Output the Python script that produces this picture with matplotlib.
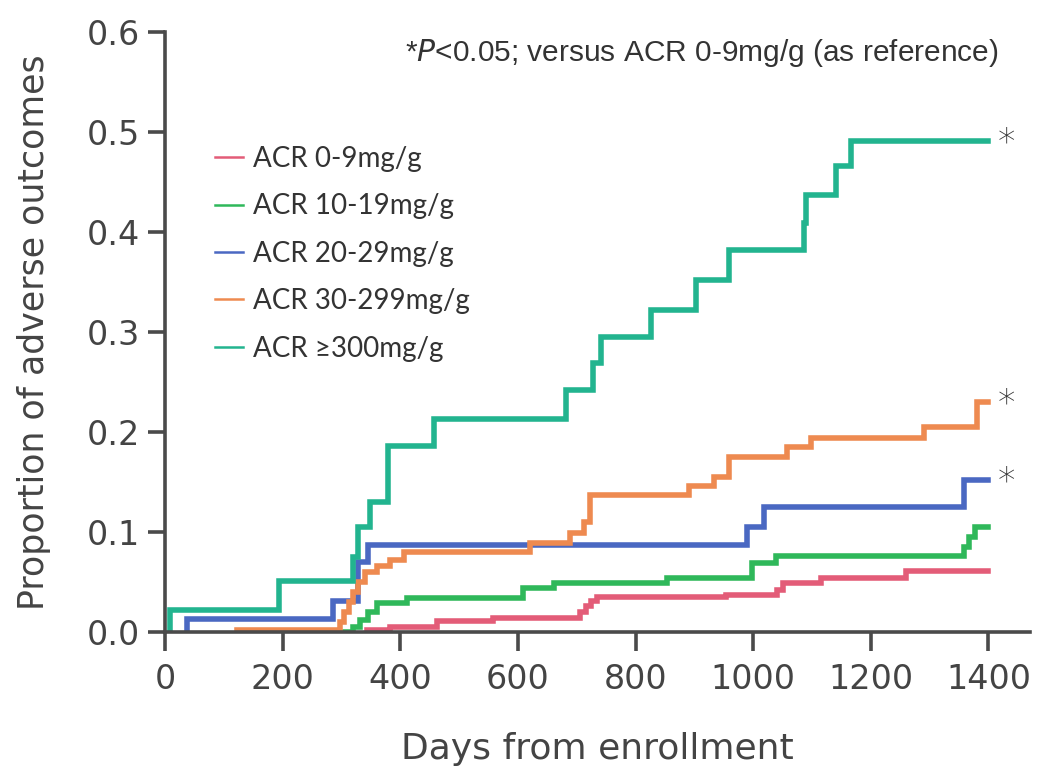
import matplotlib
matplotlib.use("Agg")
import matplotlib.pyplot as plt

# ---- data ----
series_labels = ["ACR 0-9mg/g", "ACR 10-19mg/g", "ACR 20-29mg/g", "ACR 30-299mg/g", "ACR \u2265300mg/g"]
series_colors = ["#e35c78", "#2fb85a", "#4a68c2", "#ee8a50", "#22b48f"]

days_0_9 = [343, 382, 463, 557, 705, 715, 725, 735, 954, 1041, 1050, 1115, 1260, 1400]
vals_0_9 = [0.002, 0.005, 0.011, 0.014, 0.020, 0.026, 0.031, 0.035, 0.037, 0.042, 0.049, 0.054, 0.061, 0.061]

days_10_19 = [306, 320, 331, 345, 360, 411, 608, 662, 854, 998, 1039, 1358, 1367, 1378, 1400]
vals_10_19 = [0.0, 0.005, 0.012, 0.020, 0.029, 0.034, 0.044, 0.049, 0.054, 0.069, 0.076, 0.085, 0.095, 0.105, 0.105]

days_20_29 = [37, 37, 285, 328, 345, 990, 1019, 1358, 1400]
vals_20_29 = [0.0, 0.013, 0.031, 0.070, 0.087, 0.105, 0.125, 0.152, 0.152]

days_30_299 = [122, 297, 305, 312, 320, 328, 340, 360, 382, 407, 620, 688, 712, 722, 891, 934, 959, 1058, 1098, 1290, 1380, 1400]
vals_30_299 = [0.002, 0.010, 0.020, 0.030, 0.040, 0.050, 0.060, 0.066, 0.072, 0.080, 0.089, 0.099, 0.110, 0.137, 0.146, 0.155, 0.175, 0.185, 0.194, 0.205, 0.230, 0.230]

days_300 = [8, 8, 194, 320, 328, 348, 379, 458, 682, 727, 742, 827, 903, 959, 1086, 1090, 1141, 1166, 1400]
vals_300 = [0.0, 0.022, 0.051, 0.075, 0.105, 0.130, 0.186, 0.213, 0.242, 0.269, 0.295, 0.322, 0.352, 0.382, 0.409, 0.437, 0.466, 0.491, 0.491]

all_days = [days_0_9, days_10_19, days_20_29, days_30_299, days_300]
all_vals = [vals_0_9, vals_10_19, vals_20_29, vals_30_299, vals_300]
significant = [False, False, True, True, True]

x_ticks = [0, 200, 400, 600, 800, 1000, 1200, 1400]
y_ticks = [0.0, 0.1, 0.2, 0.3, 0.4, 0.5, 0.6]

annotation = "*$\\it{P}$<0.05; versus ACR 0-9mg/g (as reference)"

# ---- figure ----
fig = plt.figure(figsize=(10.4, 7.75), dpi=100)
ax = fig.add_axes([0.1587, 0.1845, 0.8313, 0.7742])

axis_color = "#4a4a4a"
for d, v, c, lab in zip(all_days, all_vals, series_colors, series_labels):
    ax.plot(d, v, drawstyle="steps-post", color=c, lw=4.0, label=lab,
            solid_joinstyle="miter")

for d, v, sig in zip(all_days, all_vals, significant):
    if sig:
        ax.text(d[-1] + 16, v[-1] - 0.001, "*", fontsize=25, color="#333333",
                ha="left", va="center", family="DejaVu Sans", fontweight="light")

ax.set_xlim(0, 1470)
ax.set_ylim(0, 0.6)
ax.set_xticks(x_ticks)
ax.set_yticks(y_ticks)
ax.set_yticklabels([f"{t:.1f}" for t in y_ticks])

for s in ["top", "right"]:
    ax.spines[s].set_visible(False)
for s in ["left", "bottom"]:
    ax.spines[s].set_color(axis_color)
    ax.spines[s].set_linewidth(2.6)

ax.tick_params(axis="both", direction="out", width=2.6, color=axis_color,
               labelcolor="#444444", labelsize=24)
ax.tick_params(axis="x", length=14, pad=8)
ax.tick_params(axis="y", length=12, pad=6)
for lab in ax.get_xticklabels() + ax.get_yticklabels():
    lab.set_family("DejaVu Sans")

ax.set_xlabel("Days from enrollment", fontsize=26, color="#444444", labelpad=26,
              family="DejaVu Sans")
ax.set_ylabel("Proportion of adverse outcomes", fontsize=25, color="#444444", labelpad=26,
              family="DejaVu Sans")

leg_handles = [plt.Line2D([], [], color=c, lw=1.8) for c in series_colors]
leg = ax.legend(leg_handles, series_labels, loc="upper left", bbox_to_anchor=(0.058, 0.81),
                frameon=False, handlelength=1.0, handletextpad=0.36, borderpad=0,
                borderaxespad=0, labelspacing=0.77, prop={"family": "Lato", "size": 20})
for t in leg.get_texts():
    t.set_color("#333333")

ax.text(0.277, 0.965, annotation, transform=ax.transAxes, fontsize=21.5,
        family="Liberation Sans", color="#333333", ha="left", va="center")

fig.savefig("out.png", dpi=100, facecolor="white")
